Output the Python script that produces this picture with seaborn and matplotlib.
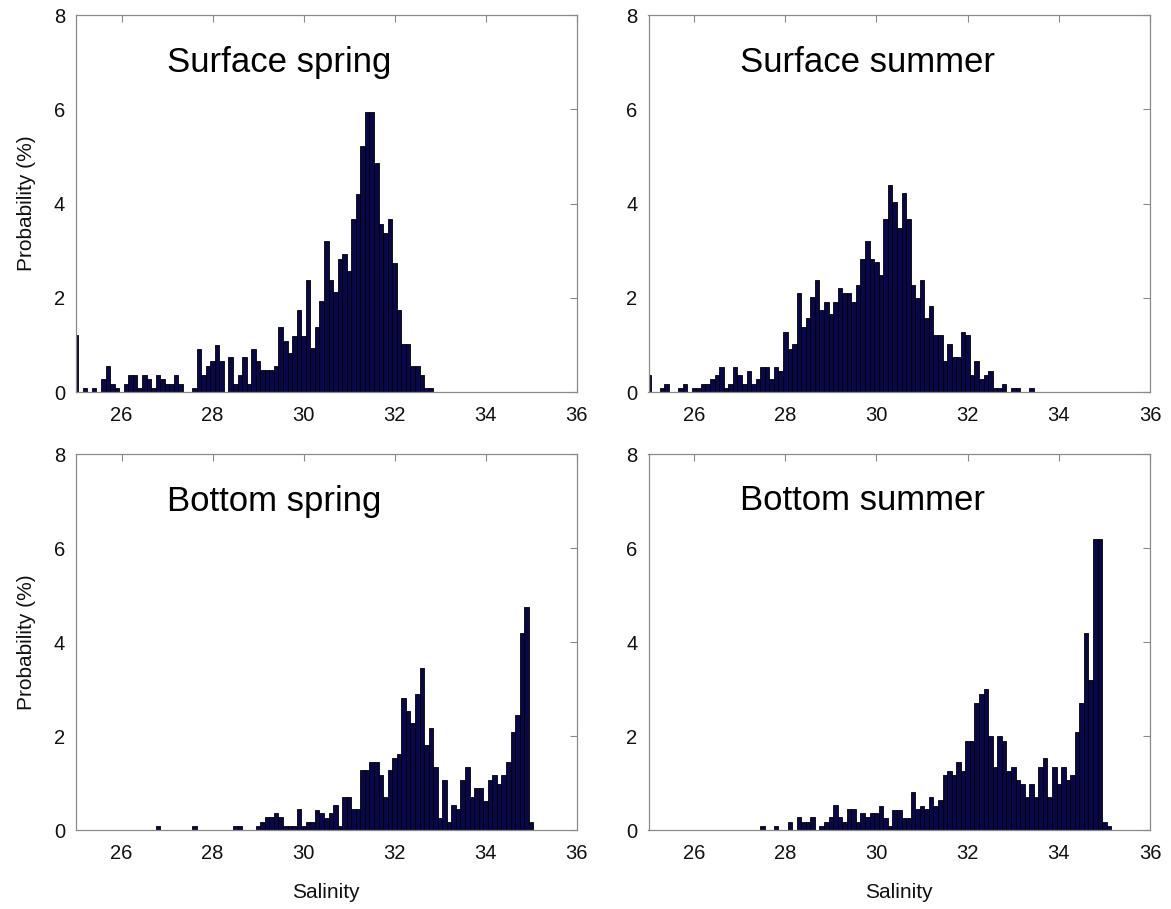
import numpy as np
import pandas as pd
import seaborn as sns
import matplotlib.pyplot as plt

# ---- data: probability (%) per 0.1-salinity bin, bins centred on 25.0, 25.1, ... ----
surface_spring_start = 25.0
surface_spring = [
    1.2, 0, 0.09, 0, 0.09, 0, 0.27, 0.55, 0.18, 0.09,
    0, 0.18, 0.36, 0.36, 0.09, 0.36, 0.27, 0.09, 0.36, 0.27,
    0.18, 0.18, 0.36, 0.18, 0, 0, 0.09, 0.92, 0.36, 0.55,
    0.65, 1.0, 0.65, 0, 0.74, 0.18, 0.36, 0.74, 0.18, 0.92,
    0.65, 0.46, 0.46, 0.46, 0.55, 1.37, 1.09, 0.82, 1.19, 1.73,
    1.19, 2.38, 0.93, 1.37, 1.93, 3.2, 2.38, 2.12, 2.83, 2.93,
    2.57, 3.67, 4.2, 5.21, 5.94, 5.94, 4.85, 3.57, 3.38, 3.67,
    2.74, 1.73, 1.02, 1.02, 0.55, 0.55, 0.36, 0.09, 0.09,
]

surface_summer_start = 25.0
surface_summer = [
    0.36, 0, 0, 0.09, 0.18, 0, 0, 0.09, 0.18, 0,
    0.09, 0.09, 0.18, 0.18, 0.27, 0.36, 0.54, 0.09, 0.18, 0.54,
    0.36, 0.18, 0.45, 0.18, 0.27, 0.54, 0.54, 0.27, 0.54, 0.45,
    1.27, 0.91, 1.02, 2.1, 1.37, 1.56, 2.01, 2.38, 1.74, 1.91,
    1.66, 1.91, 2.2, 2.1, 2.1, 1.91, 2.28, 2.83, 3.21, 2.83,
    2.75, 2.48, 3.67, 4.4, 4.03, 3.48, 4.22, 3.67, 2.28, 2.0,
    2.38, 1.56, 1.82, 1.2, 1.2, 0.65, 1.02, 0.74, 0.74, 1.27,
    1.2, 0.36, 0.65, 0.27, 0.36, 0.45, 0.09, 0.09, 0.18, 0,
    0.09, 0.09, 0, 0, 0.09,
]

bottom_spring_start = 26.8
bottom_spring = [
    0.09, 0,
    0, 0, 0, 0, 0, 0, 0.09, 0, 0, 0,
    0, 0, 0, 0, 0, 0.09, 0.09, 0, 0, 0,
    0.09, 0.18, 0.27, 0.27, 0.36, 0.27, 0.09, 0.09, 0.09, 0.44,
    0.09, 0.16, 0.16, 0.43, 0.36, 0.25, 0.36, 0.53, 0.09, 0.71,
    0.71, 0.44, 0.44, 1.27, 1.27, 1.44, 1.44, 1.17, 0.71, 1.27,
    1.53, 1.62, 2.81, 2.54, 2.27, 2.9, 3.45, 1.8, 2.17, 1.35,
    0.25, 1.07, 0.16, 0.53, 0.44, 1.07, 1.35, 0.71, 0.89, 0.89,
    0.62, 1.07, 1.17, 0.98, 1.17, 1.44, 2.08, 2.45, 4.19, 4.74,
    0.16,
]

bottom_summer_start = 27.5
bottom_summer = [
    0.09, 0, 0, 0.09, 0,
    0, 0.18, 0, 0.27, 0.18, 0.18, 0.27, 0, 0.09, 0.18,
    0.27, 0.53, 0.27, 0.18, 0.45, 0.45, 0.18, 0.36, 0.27, 0.36,
    0.36, 0.52, 0.26, 0.09, 0.43, 0.43, 0.26, 0.26, 0.8, 0.44,
    0.52, 0.44, 0.71, 0.52, 0.63, 1.16, 1.26, 1.16, 1.44, 1.26,
    1.9, 1.9, 2.71, 2.9, 2.99, 1.99, 1.35, 1.99, 1.9, 1.26,
    1.35, 1.07, 0.97, 0.71, 0.97, 0.71, 1.35, 1.53, 0.71, 1.35,
    0.97, 1.35, 1.07, 1.16, 2.08, 2.71, 4.19, 3.2, 6.2, 6.2,
    0.18, 0.09,
]

panel_titles = ["Surface spring", "Surface summer", "Bottom spring", "Bottom summer"]
x_ticks = [26, 28, 30, 32, 34, 36]
y_ticks = [0, 2, 4, 6, 8]

# ---- style ----
sns.set_style("white")
plt.rcParams["font.family"] = ["Liberation Sans", "DejaVu Sans"]

BAR_FACE = "#07074a"
SPINE = "#8a8a8a"
TXT = "#111111"


def to_frame(start, vals):
    sal = np.round(start + 0.1 * np.arange(len(vals)), 1)
    return pd.DataFrame({"salinity": sal, "prob": np.asarray(vals, dtype=float)})


series = [
    to_frame(surface_spring_start, surface_spring),
    to_frame(surface_summer_start, surface_summer),
    to_frame(bottom_spring_start, bottom_spring),
    to_frame(bottom_summer_start, bottom_summer),
]

fig = plt.figure(figsize=(11.71, 9.09), dpi=100)
W, H = 1171.0, 909.0
boxes = [
    (76, 15, 500.5, 377),
    (648.5, 15, 501.5, 377),
    (76, 454, 500.5, 376),
    (648.5, 454, 501.5, 376),
]

for i, (df, title, (lx, ty, w, h)) in enumerate(zip(series, panel_titles, boxes)):
    ax = fig.add_axes([lx / W, 1 - (ty + h) / H, w / W, h / H])
    sns.histplot(
        data=df, x="salinity", weights="prob", binwidth=0.1, binrange=(24.95, 36.05),
        ax=ax, color=BAR_FACE, edgecolor="black", linewidth=0.6, alpha=1.0,
    )
    ax.set_xlim(25, 36)
    ax.set_ylim(0, 8)
    ax.set_xticks(x_ticks)
    ax.set_yticks(y_ticks)
    ax.tick_params(direction="in", top=True, right=True, length=5, width=0.8,
                   color=SPINE, labelsize=14.5, labelcolor=TXT)
    ax.tick_params(axis="x", pad=10)
    ax.tick_params(axis="y", pad=8)
    for s in ax.spines.values():
        s.set_visible(True)
        s.set_color(SPINE)
        s.set_linewidth(0.9)
    ax.text(27.0, 7.0, title, fontsize=25, ha="left", va="center", color="black")
    if i % 2 == 0:
        ax.set_ylabel("Probability (%)", fontsize=15, color=TXT, labelpad=13)
    else:
        ax.set_ylabel("")
    if i >= 2:
        ax.set_xlabel("Salinity", fontsize=15, color=TXT, labelpad=14.5)
    else:
        ax.set_xlabel("")

fig.savefig("out.png", dpi=100, facecolor="white")
